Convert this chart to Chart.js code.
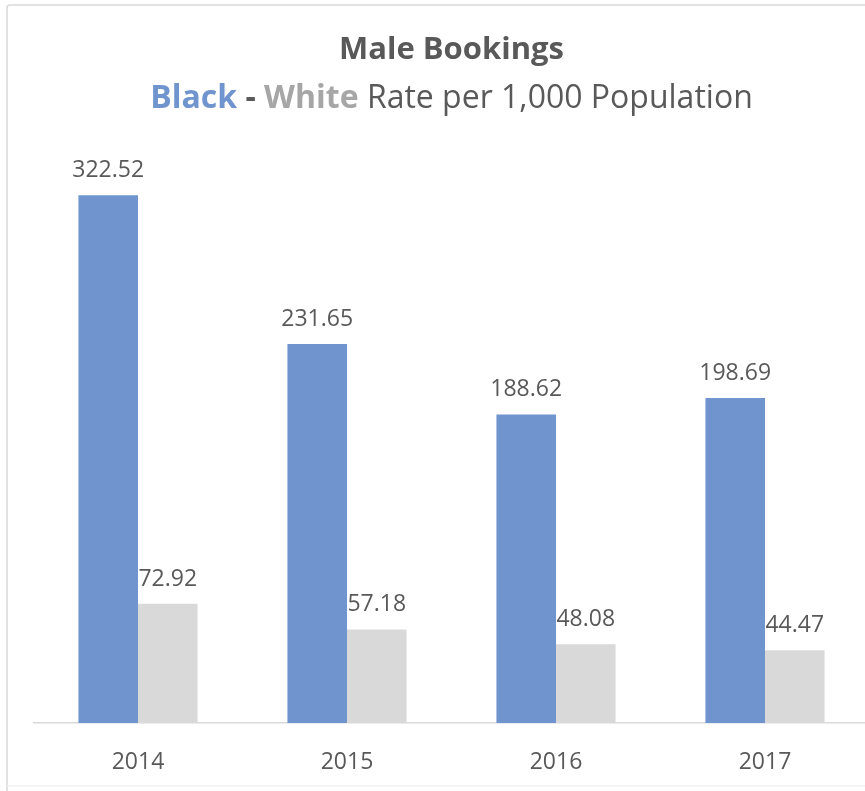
<!DOCTYPE html>
<html>
<head>
<meta charset="utf-8">
<title>Male Bookings</title>
<script src="https://cdn.jsdelivr.net/npm/chart.js@4"></script>
<style>
  html, body { margin: 0; padding: 0; background: #fff; overflow: hidden; }
  #wrap { width: 880px; height: 791px; }
</style>
</head>
<body>
<div id="wrap"><canvas id="bookings" width="880" height="791"></canvas></div>
<script>
const years = ["2014", "2015", "2016", "2017"];
const blackRates = [322.52, 231.65, 188.62, 198.69];
const whiteRates = [72.92, 57.18, 48.08, 44.47];

const BLUE = "#7094CD";
const GREY = "#D9D9D9";
const TEXT = "#595959";
const FONT = "'Open Sans', 'Noto Sans', sans-serif";

// light frame around the chart
const frame = {
    id: "frame",
    beforeDraw(chart) {
        const ctx = chart.ctx;
        ctx.save();
        ctx.strokeStyle = "#D9D9D9";
        ctx.lineWidth = 1.5;
        ctx.beginPath();
        ctx.moveTo(7, 791);
        ctx.lineTo(7, 8);
        ctx.quadraticCurveTo(7, 5, 10, 5);
        ctx.lineTo(chart.width, 5);
        ctx.stroke();
        ctx.strokeStyle = "#F0F0F0";
        ctx.beginPath();
        ctx.moveTo(7, 786);
        ctx.lineTo(chart.width, 786);
        ctx.stroke();
        ctx.restore();
    }
};

// two-line heading, second line in mixed colours
const heading = {
    id: "heading",
    afterDraw(chart) {
        const ctx = chart.ctx;
        const cx = (chart.chartArea.left + chart.chartArea.right) / 2;
        ctx.save();
        ctx.textBaseline = "alphabetic";
        ctx.textAlign = "center";
        ctx.fillStyle = TEXT;
        ctx.font = "bold 31px " + FONT;
        ctx.fillText("Male Bookings", cx, 59);

        const parts = [
            {text: "Black", bold: true, color: BLUE},
            {text: " - ", bold: true, color: TEXT},
            {text: "White", bold: true, color: "#A6A6A6"},
            {text: " Rate per 1,000 Population", bold: false, color: TEXT}
        ];
        const size = 32;
        let total = 0;
        parts.forEach(p => {
            ctx.font = (p.bold ? "bold " : "") + size + "px " + FONT;
            p.w = ctx.measureText(p.text).width;
            total += p.w;
        });
        let x = cx - total / 2;
        ctx.textAlign = "left";
        parts.forEach(p => {
            ctx.font = (p.bold ? "bold " : "") + size + "px " + FONT;
            ctx.fillStyle = p.color;
            ctx.fillText(p.text, x, 108);
            x += p.w;
        });
        ctx.restore();
    }
};

// value printed above every bar
const valueLabels = {
    id: "valueLabels",
    afterDatasetsDraw(chart) {
        const ctx = chart.ctx;
        ctx.save();
        ctx.font = "23px " + FONT;
        ctx.fillStyle = TEXT;
        ctx.textAlign = "center";
        ctx.textBaseline = "alphabetic";
        chart.data.datasets.forEach((ds, i) => {
            chart.getDatasetMeta(i).data.forEach((bar, j) => {
                ctx.fillText(ds.data[j].toFixed(2), bar.x, bar.y - 18);
            });
        });
        ctx.restore();
    }
};

function draw() {
    new Chart(document.getElementById("bookings"), {
        type: "bar",
        data: {
            labels: years,
            datasets: [
                {label: "Black", data: blackRates, backgroundColor: BLUE},
                {label: "White", data: whiteRates, backgroundColor: GREY}
            ]
        },
        options: {
            responsive: false,
            animation: false,
            layout: {padding: {top: 134, left: 33.5, right: 10.5, bottom: 14}},
            categoryPercentage: 0.57,
            barPercentage: 1.0,
            plugins: {
                legend: {display: false},
                title: {display: false},
                tooltip: {enabled: false}
            },
            scales: {
                x: {
                    grid: {display: false, drawTicks: false},
                    border: {display: true, color: "#D9D9D9", width: 1.5},
                    ticks: {color: TEXT, font: {family: FONT, size: 23}, padding: 26},
                    afterFit(scale) { scale.height = 54; }
                },
                y: {display: false, min: 0, max: 360}
            }
        },
        plugins: [frame, heading, valueLabels]
    });
}

if (document.fonts && document.fonts.load) {
    Promise.all([
        document.fonts.load("23px 'Open Sans'"),
        document.fonts.load("bold 32px 'Open Sans'")
    ]).then(draw, draw);
} else {
    draw();
}
</script>
</body>
</html>
